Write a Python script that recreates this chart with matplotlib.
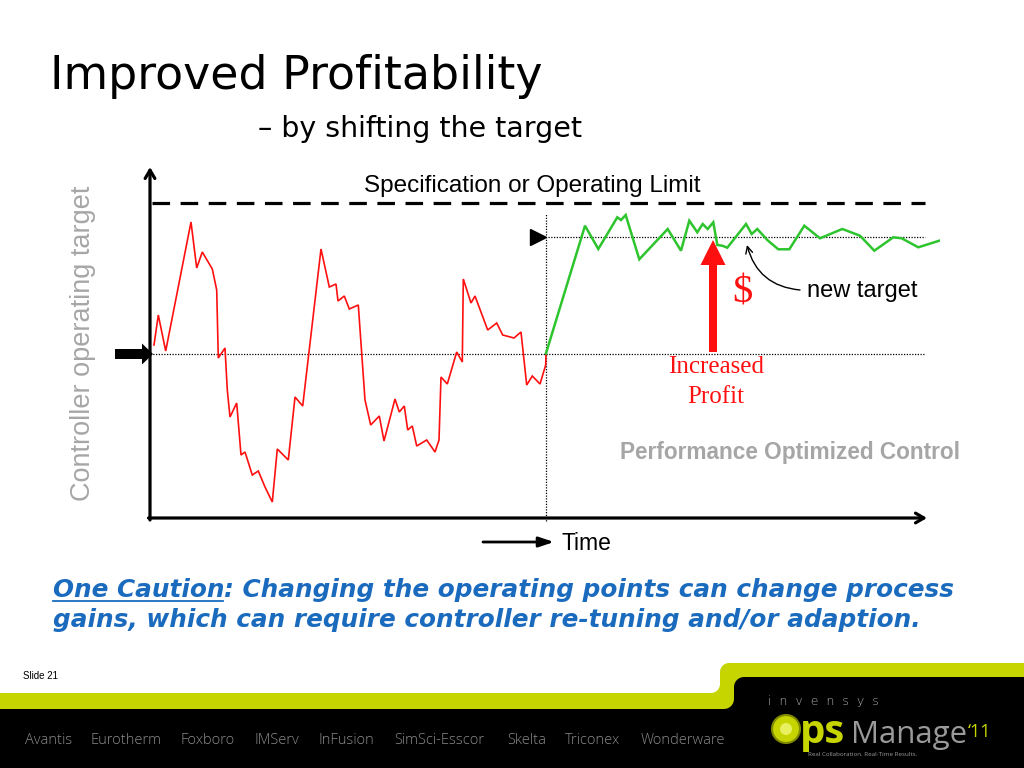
import matplotlib
matplotlib.use('Agg')
import matplotlib.pyplot as plt
from matplotlib.patches import Polygon, FancyArrow, Circle
import numpy as np

# ---------------- data ----------------
red_t = [4, 8.3, 15.7, 41, 46.7, 52.3, 62.3, 66.7, 68.3, 75, 77.3, 80, 86.7, 91, 95,
         102.3, 108.3, 115, 122.3, 127.3, 138.3, 145, 152.7, 171, 179.3, 186, 188,
         194.3, 199.3, 208.3, 215, 220.7, 229.3, 234, 245, 249.3, 254.3, 257.7, 262.3,
         266.7, 276.7, 285, 289, 291, 297.3, 306.7, 312.3, 313.3, 321, 325, 337.7,
         346.7, 352.7, 364, 371, 376.7, 382.3, 390, 395.7, 396]
red_v = [173, 203, 167, 296, 250, 266, 249, 228, 160, 170, 128, 101, 115, 63, 66,
         43, 47, 31, 16, 69, 58, 121, 112, 269, 231, 234, 217, 222, 209, 213, 118, 93,
         102, 77, 119, 106, 112, 88, 92, 72, 78, 66, 78, 141, 134, 166, 156, 239, 215,
         222, 188, 195, 183, 180, 186, 133, 142, 134, 153, 164]
green_t = [396, 435, 448.3, 467.3, 471, 475.7, 489.3, 517.7, 531, 539.3, 547.3, 552.7,
           557.7, 563.3, 567.3, 572.3, 577.3, 596, 601.7, 607.3, 617.3, 628.3, 639.3,
           654.3, 670, 692.3, 710, 724.3, 743.3, 751.7, 768.3, 789.3]
green_v = [164.7, 292.3, 269, 300.7, 298, 303, 258.7, 289, 267.3, 297.3, 285.7, 294,
           289, 295.7, 273, 272.3, 270.3, 294, 284, 289, 278, 268.7, 268.7, 292.3,
           279.7, 289, 282.3, 267.3, 280.7, 279.7, 270.7, 277.3]
spec_limit = 315
old_target = 164
new_target = 281
switch_t = 396
t_end = 775

title_text = "Improved Profitability"
subtitle_text = "\u2013 by shifting the target"
spec_label = "Specification or Operating Limit"
ylabel_text = "Controller operating target"
xlabel_text = "Time"
new_target_label = "new target"
profit_label = "Increased\nProfit"
poc_label = "Performance Optimized Control"
caution_head = "One Caution"
caution_l1 = ": Changing the operating points can change process"
caution_l2 = "gains, which can require controller re-tuning and/or adaption."
slide_label = "Slide 21"
brands = ["Avantis", "Eurotherm", "Foxboro", "IMServ", "InFusion", "SimSci-Esscor",
          "Skelta", "Triconex", "Wonderware"]
brand_x = [25, 90, 180, 255, 318, 394, 507, 565, 641]

RED = '#ff1010'
GREEN = '#2ec42e'
BLUE = '#1a6bbd'
GRAY = '#a6a6a6'
LIME = '#c6d400'

W, H = 1024, 768
fig = plt.figure(figsize=(W / 100, H / 100), dpi=100)
fig.patch.set_facecolor('white')

bg = fig.add_axes([0, 0, 1, 1])
bg.set_xlim(0, W)
bg.set_ylim(H, 0)
bg.axis('off')

# ---------------- footer ----------------
def rounded_step(y_low, x_step, y_high, r):
    pts = [(0, y_low), (x_step - r, y_low)]
    a = np.linspace(np.pi / 2, 0, 8)
    cx, cy = x_step - r, y_low - r
    pts += [(cx + r * np.cos(t), cy + r * np.sin(t)) for t in a]
    a2 = np.linspace(np.pi, 3 * np.pi / 2, 8)
    cx2, cy2 = x_step + r, y_high + r
    pts += [(cx2 + r * np.cos(t), cy2 + r * np.sin(t)) for t in a2]
    pts += [(W, y_high), (W, H), (0, H)]
    return pts

bg.add_patch(Polygon(rounded_step(693, 720, 663, 9), closed=True, fc=LIME, ec='none'))
bg.add_patch(Polygon(rounded_step(709, 734, 677, 10), closed=True, fc='black', ec='none'))

for b, x in zip(brands, brand_x):
    bg.text(x, 741, b, fontsize=10.5, color='#8a8a8a', family='Open Sans',
            fontweight='light', ha='left', va='center')

bg.text(23, 676, slide_label, fontsize=7, color='black', family='Liberation Sans',
        ha='left', va='center')

# logo
bg.text(768, 701, "i  n  v  e  n  s  y  s", fontsize=9, color='#b0b0b0', family='DejaVu Sans',
        fontweight='light', ha='left', va='center')
bg.add_patch(Circle((786, 729), 14, fc=LIME, ec='#7f8a00', lw=1.5))
bg.add_patch(Circle((786, 729), 6, fc='#e8f060', ec='none'))
bg.text(800, 743, "ps", fontsize=29, color=LIME, family='Open Sans', fontweight='bold',
        ha='left', va='baseline')
bg.text(851, 743, "Manage", fontsize=22.5, color='#9a9a9a', family='Open Sans',
        ha='left', va='baseline')
bg.text(968, 737, "\u201811", fontsize=13, color=LIME, family='Open Sans',
        ha='left', va='baseline')
bg.text(808, 754, "Real Collaboration. Real-Time Results.", fontsize=4.5, color='#9a9a9a',
        family='Open Sans', ha='left', va='center')

# ---------------- titles ----------------
bg.text(50, 89, title_text, fontsize=33, family='DejaVu Sans', color='black',
        ha='left', va='baseline')
bg.text(258, 137, subtitle_text, fontsize=20.5, family='DejaVu Sans', color='black',
        ha='left', va='baseline')

# caution text
CFS = 17.8
th = bg.text(53, 597, caution_head, fontsize=CFS, family='DejaVu Sans', style='italic',
             fontweight='bold', color=BLUE, ha='left', va='baseline')
fig.canvas.draw()
rend = fig.canvas.get_renderer()
bb = th.get_window_extent(rend)
x_end = bb.x1
bg.text(x_end, 597, caution_l1, fontsize=CFS, family='DejaVu Sans', style='italic',
        fontweight='bold', color=BLUE, ha='left', va='baseline')
bg.plot([53, x_end - 2], [600.5, 600.5], color=BLUE, lw=1.3)
bg.text(53, 627, caution_l2, fontsize=CFS, family='DejaVu Sans', style='italic',
        fontweight='bold', color=BLUE, ha='left', va='baseline')

# ---------------- chart ----------------
ax = fig.add_axes([150 / W, (H - 525) / H, 790 / W, 360 / H])
ax.set_xlim(0, 790)
ax.set_ylim(-7, 353)
ax.axis('off')
ax.patch.set_alpha(0)

# axes arrows
ax.annotate('', xy=(0, 351), xytext=(0, -2),
            arrowprops=dict(arrowstyle='->,head_length=0.6,head_width=0.35', lw=2.3,
                            color='black', shrinkA=0, shrinkB=0), annotation_clip=False)
ax.annotate('', xy=(777, 0), xytext=(-1.5, 0),
            arrowprops=dict(arrowstyle='->,head_length=0.6,head_width=0.35', lw=2.3,
                            color='black', shrinkA=0, shrinkB=0), annotation_clip=False)

# reference lines
ax.plot([2, t_end], [spec_limit, spec_limit], color='black', lw=2.3,
        linestyle=(0, (5.5, 3.3)), solid_capstyle='butt')
ax.plot([0, t_end], [old_target, old_target], color='black', lw=0.9, linestyle=(0, (1, 1.2)))
ax.plot([switch_t + 2, t_end], [new_target, new_target], color='black', lw=0.9,
        linestyle=(0, (1, 1.2)))
ax.plot([switch_t, switch_t], [-3, 305], color='black', lw=0.9, linestyle=(0, (1, 1.2)))

# series
ax.plot(red_t, red_v, color=RED, lw=1.2, solid_joinstyle='miter')
ax.plot(green_t, green_v, color=GREEN, lw=1.8, solid_joinstyle='miter')

# markers for targets
ax.plot([switch_t - 8], [new_target], marker='>', color='black', markersize=11,
        clip_on=False)
ax.add_patch(FancyArrow(-35, old_target, 27, 0, width=10, head_width=21, head_length=11,
                        length_includes_head=False, fc='black', ec='none', clip_on=False))

# red profit arrow
ax.add_patch(FancyArrow(563, old_target + 2, 0, new_target - old_target - 5, width=8,
                        head_width=25, head_length=25, length_includes_head=True,
                        fc=RED, ec='none'))
ax.text(592, 225, '$', fontsize=29, color=RED, family='Liberation Serif', ha='center',
        va='center')
ax.text(566, 136, profit_label, fontsize=18, color=RED, family='Liberation Serif',
        ha='center', va='center', linespacing=1.45)

# new target label with curved arrow
ax.text(657, 227, new_target_label, fontsize=17, family='Liberation Sans', color='black',
        ha='left', va='center')
ax.annotate('', xy=(597, 273), xytext=(650, 228),
            arrowprops=dict(arrowstyle='->,head_length=0.5,head_width=0.25', lw=1.0,
                            color='black', connectionstyle='arc3,rad=-0.35',
                            shrinkA=0, shrinkB=0))

ax.text(640, 66, poc_label, fontsize=16.3, fontweight='bold', family='Liberation Sans',
        color=GRAY, ha='center', va='center')
ax.text(382, 332, spec_label, fontsize=17.5, family='Liberation Sans', color='black',
        ha='center', va='center')

# time label with arrow
ax.annotate('', xy=(404, -24), xytext=(333, -24),
            arrowprops=dict(arrowstyle='-|>,head_length=0.9,head_width=0.3', lw=2.0,
                            color='black', shrinkA=0, shrinkB=0), annotation_clip=False)
ax.text(411, -26, xlabel_text, fontsize=16.5, family='Liberation Sans', color='black',
        ha='left', va='center', clip_on=False)

# y label
bg.text(83, 343, ylabel_text, fontsize=19.5, family='Liberation Sans', color=GRAY,
        rotation=90, ha='center', va='center')

fig.savefig('out.png', dpi=100, facecolor='white')
